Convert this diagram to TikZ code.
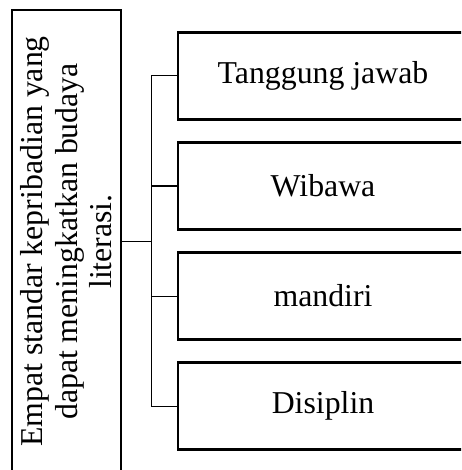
\documentclass[tikz,border=0pt]{standalone}
\usepackage{fontspec}
\setmainfont{Liberation Serif}
\begin{document}
\begin{tikzpicture}[x=1pt,y=-1pt,
  box/.style={draw, line width=2.8pt, inner sep=0pt, font=\fontsize{31.8}{34.5}\selectfont},
  rbox/.style={box, minimum width=290pt, minimum height=87pt},
  conn/.style={line width=1pt}]
\useasboundingbox (0,0) rectangle (461,470);
\begin{scope}
\clip (0,0) rectangle (461,470);
\node[box, rotate=90, minimum width=463pt, minimum height=109pt, align=center] (L) at (66.5,241.5)
  {Empat standar kepribadian yang\\dapat meningkatkan budaya\\literasi.};
\node[rbox] (A) at (323,76) {Tanggung jawab};
\node[rbox] (B) at (323,186) {Wibawa};
\node[rbox] (C) at (323,296) {mandiri};
\node[rbox] (D) at (323,406) {Disiplin};
\draw[conn] (L.south) -- ++(29,0) coordinate (J);
\draw[conn] (J |- A.west) -- (J |- D.west);
\foreach \n in {A,B,C,D} \draw[conn] (J |- \n.west) -- (\n.west);
\end{scope}
\end{tikzpicture}
\end{document}
